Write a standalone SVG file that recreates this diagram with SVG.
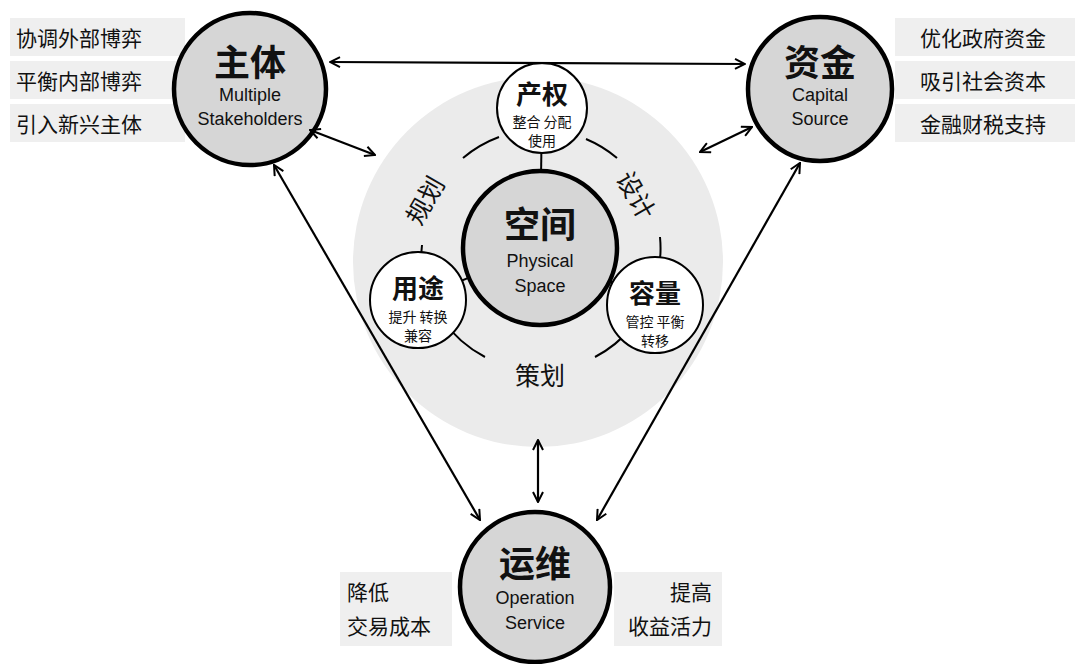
<svg xmlns="http://www.w3.org/2000/svg" width="1080" height="664" viewBox="0 0 1080 664">
<defs>
<marker id="a" viewBox="0 0 12 12" refX="11" refY="6" markerWidth="12" markerHeight="12" markerUnits="userSpaceOnUse" orient="auto-start-reverse"><path d="M1,1 L11,6 L1,11" fill="none" stroke="#000" stroke-width="2"/></marker>
<style>
text{font-family:"Noto Sans CJK SC","Liberation Sans",sans-serif;fill:#111;text-anchor:middle}
.en{font-family:"Liberation Sans",Arial,sans-serif;font-size:18px}
.big{font-size:36px;font-weight:bold}
.mid{font-size:26px;font-weight:bold}
.sm{font-size:14px}
.lab{font-size:21px;text-anchor:start}
.bar{fill:#efefef}
.main{fill:#d6d6d6;stroke:#000;stroke-width:4.5}
.sub{fill:#fff;stroke:#000;stroke-width:2}
.arc{fill:none;stroke:#000;stroke-width:2}
.con{stroke:#000;stroke-width:2.2;fill:none;marker-start:url(#a);marker-end:url(#a)}
</style>
</defs>
<rect width="1080" height="664" fill="#fff"/>
<circle cx="538" cy="262" r="185" fill="#ebebeb"/>
<g id="labels-left">
<rect class="bar" x="10" y="18" width="175" height="38"/>
<rect class="bar" x="10" y="61" width="175" height="38"/>
<rect class="bar" x="10" y="104" width="175" height="38"/>
<text class="lab" x="16" y="46">协调外部博弈</text>
<text class="lab" x="16" y="89">平衡内部博弈</text>
<text class="lab" x="16" y="132">引入新兴主体</text>
</g>
<g id="labels-right">
<rect class="bar" x="895" y="18" width="180" height="38"/>
<rect class="bar" x="895" y="61" width="180" height="38"/>
<rect class="bar" x="895" y="104" width="180" height="38"/>
<text class="lab" x="920" y="46">优化政府资金</text>
<text class="lab" x="920" y="89">吸引社会资本</text>
<text class="lab" x="920" y="132">金融财税支持</text>
</g>
<g id="labels-bottom">
<rect class="bar" x="340" y="572" width="112" height="74"/>
<rect class="bar" x="614" y="572" width="108" height="74"/>
<text class="lab" x="347" y="600">降低</text>
<text class="lab" x="347" y="634">交易成本</text>
<text class="lab" x="670" y="600">提高</text>
<text class="lab" x="628" y="634">收益活力</text>
</g>
<g id="inner-links">
<line x1="540" y1="248" x2="542" y2="108" stroke="#000" stroke-width="2"/>
<line x1="540" y1="248" x2="420" y2="298" stroke="#000" stroke-width="2"/>
<line x1="540" y1="248" x2="655" y2="303" stroke="#000" stroke-width="2"/>
<path class="arc" d="M463,158 A120,120 0 0 1 499,137"/>
<path class="arc" d="M586,139 A120,120 0 0 1 617,158"/>
<path class="arc" d="M660,237 A120,120 0 0 1 656,281"/>
<path class="arc" d="M632,327 A120,120 0 0 1 595,357"/>
<path class="arc" d="M485,357 A120,120 0 0 1 442,319"/>
<path class="arc" d="M422,271 A120,120 0 0 1 422,245"/>
<text x="433" y="205" font-size="25" transform="rotate(-60 433 205)">规划</text>
<text x="628" y="200" font-size="25" transform="rotate(60 628 200)">设计</text>
<text x="540" y="385" font-size="25">策划</text>
</g>
<g id="node-space">
<circle class="main" cx="540" cy="248" r="77"/>
<text class="big" x="540" y="238">空间</text>
<text class="en" x="540" y="267">Physical</text>
<text class="en" x="540" y="292">Space</text>
</g>
<g id="node-chanquan">
<circle class="sub" cx="542" cy="108" r="45"/>
<text class="mid" x="542" y="104">产权</text>
<text class="sm" x="542" y="127">整合  分配</text>
<text class="sm" x="542" y="146">使用</text>
</g>
<g id="node-yongtu">
<circle class="sub" cx="418" cy="300" r="48"/>
<text class="mid" x="418" y="298">用途</text>
<text class="sm" x="418" y="322">提升  转换</text>
<text class="sm" x="418" y="341">兼容</text>
</g>
<g id="node-rongliang">
<circle class="sub" cx="655" cy="305" r="48"/>
<text class="mid" x="655" y="303">容量</text>
<text class="sm" x="655" y="327">管控  平衡</text>
<text class="sm" x="655" y="346">转移</text>
</g>
<g id="node-zhuti">
<circle class="main" cx="250" cy="89" r="76"/>
<text class="big" x="250" y="76">主体</text>
<text class="en" x="250" y="101">Multiple</text>
<text class="en" x="250" y="125">Stakeholders</text>
</g>
<g id="node-zijin">
<circle class="main" cx="820" cy="89" r="72"/>
<text class="big" x="820" y="76">资金</text>
<text class="en" x="820" y="101">Capital</text>
<text class="en" x="820" y="125">Source</text>
</g>
<g id="node-yunwei">
<circle class="main" cx="535" cy="587" r="75"/>
<text class="big" x="535" y="577">运维</text>
<text class="en" x="535" y="604">Operation</text>
<text class="en" x="535" y="629">Service</text>
</g>
<g id="connectors">
<line class="con" x1="330" y1="62" x2="745" y2="64"/>
<line class="con" x1="310" y1="130" x2="375" y2="155"/>
<line class="con" x1="752" y1="127" x2="700" y2="152"/>
<line class="con" x1="274" y1="165" x2="480" y2="520"/>
<line class="con" x1="800" y1="163" x2="597" y2="520"/>
<line class="con" x1="538" y1="440" x2="538" y2="502"/>
</g>
</svg>
